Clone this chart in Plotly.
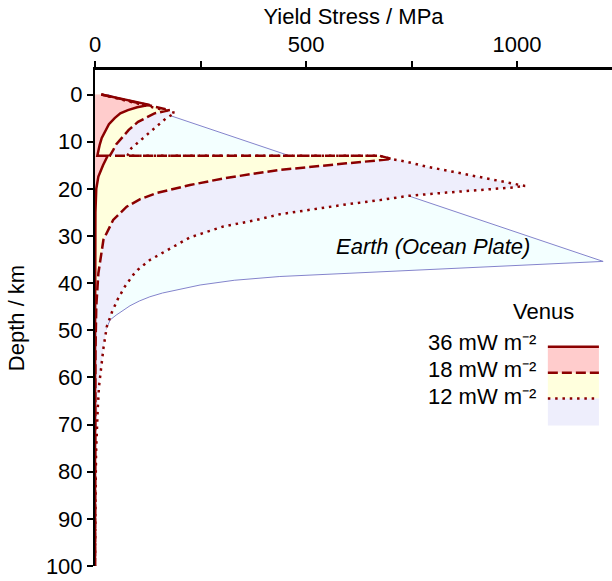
import plotly.graph_objects as go

# ---------------- data ----------------
# Venus, surface heat flow 36 mW m^-2
v36_stress = [15, 129.5, 100, 78, 60, 46.6, 33, 23, 16, 11, 7.5, 5.5, 30, 19, 8, 3, 1, 0.5, 0.2, 0]
v36_depth = [0, 2.2, 2.7, 3.3, 4.0, 5.0, 6.3, 7.9, 9.2, 10.7, 12.0, 13.0, 13.0, 15.0, 17.4, 20, 25, 35, 50, 100]

# Venus, 18 mW m^-2
v18_stress = [15, 177, 141, 102, 80, 62, 50, 43, 35, 675, 703, 596, 517, 438, 383, 304, 225,
              146, 107, 75, 43, 20, 8, 3, 1, 0.3, 0]
v18_depth = [0, 3.3, 4.0, 5.8, 7.5, 9.3, 10.6, 11.8, 13.0, 13.0, 13.7, 14.6, 15.3, 16.0, 16.7, 17.8, 19.2,
             20.9, 22.2, 23.8, 26.6, 30.8, 37.9, 45, 55, 70, 100]

# Venus, 12 mW m^-2
v12_stress = [15, 190, 169, 141, 110, 86, 78, 76, 675, 703, 735, 786, 849, 912, 976, 1019,
              991, 912, 833, 742, 675, 596, 517, 438, 383, 304, 225, 170, 130, 101, 91, 71, 54,
              40, 28, 20, 13.5, 9.5, 6.4, 4, 2.5, 1.2, 0.5, 0]
v12_depth = [0, 3.9, 5.0, 7.2, 9.6, 11.4, 12.8, 13.0, 13.0, 13.7, 14.2, 15.3, 16.4, 17.5, 18.6, 19.4,
             19.7, 20.2, 20.8, 21.5, 22.4, 23.3, 24.3, 25.4, 26.6, 28.0, 30.3, 33.0, 35.1, 37.2, 38.2, 40.7, 43.4,
             46.2, 49.2, 53.8, 58.4, 61.9, 66.8, 70.7, 76, 85, 93, 100]

# Earth (ocean plate)
earth_stress = [30, 1204, 438, 330, 249, 200, 160, 130, 105, 83, 65, 50, 36, 25, 12, 5, 0]
earth_depth = [0, 35.4, 38.6, 39.4, 40.4, 41.3, 42.1, 42.9, 43.8, 44.8, 45.8, 46.8, 47.8, 50, 55, 62, 75]

legend_labels = ["36 mW m⁻²", "18 mW m⁻²", "12 mW m⁻²"]

# ---------------- styles ----------------
RED = "#8b0000"
PINK = "#ffcccc"
YELLOW = "#ffffdd"
LAVENDER = "#eeeefc"
CYAN = "#f3ffff"
EARTH_LINE = "#8484cc"
FONT = "Liberation Sans, Arial, sans-serif"
DASH = "10px,4px"
DOT = "2.5px,4.8px"

fig = go.Figure()

# Earth fill + outline (underneath)
fig.add_trace(go.Scatter(x=earth_stress, y=earth_depth, mode="lines", fill="tozerox",
                         fillcolor=CYAN, line=dict(color=EARTH_LINE, width=1), hoverinfo="skip"))

# Venus fills
for xs, ys, col in [(v12_stress, v12_depth, LAVENDER), (v18_stress, v18_depth, YELLOW),
                    (v36_stress, v36_depth, PINK)]:
    fig.add_trace(go.Scatter(x=xs, y=ys, mode="lines", fill="tozerox", fillcolor=col,
                             line=dict(width=0, color=col), hoverinfo="skip"))

# Venus outlines
for xs, ys, dash in [(v12_stress, v12_depth, DOT), (v18_stress, v18_depth, DASH),
                     (v36_stress, v36_depth, "solid")]:
    fig.add_trace(go.Scatter(x=xs, y=ys, mode="lines",
                             line=dict(color=RED, width=2.5, dash=dash), hoverinfo="skip"))

# ---------------- legend (drawn as shapes / annotations) ----------------
lx0, lx1 = 1073, 1194
bands = [(53.5, 59.0, PINK, "solid"), (59.0, 64.5, YELLOW, DASH), (64.5, 70.2, LAVENDER, DOT)]
shapes = []
for (y0, y1, col, dash) in bands:
    shapes.append(dict(type="rect", xref="x", yref="y", x0=lx0, x1=lx1, y0=y0, y1=y1,
                       fillcolor=col, line=dict(width=0), layer="above"))
for (y0, y1, col, dash) in bands:
    shapes.append(dict(type="line", xref="x", yref="y", x0=lx0, x1=lx1, y0=y0, y1=y0,
                       line=dict(color=RED, width=2.5, dash=dash), layer="above"))

annotations = [
    dict(x=1062, y=46.1, xref="x", yref="y", text="Venus", showarrow=False,
         font=dict(family=FONT, size=22, color="black"), xanchor="center", yanchor="middle"),
    dict(x=801, y=32.3, xref="x", yref="y", text="<i>Earth (Ocean Plate)</i>", showarrow=False,
         font=dict(family=FONT, size=22, color="black"), xanchor="center", yanchor="middle"),
]
for lab, yy in zip(legend_labels, [52.6, 58.3, 64.0]):
    annotations.append(dict(x=1050, y=yy, xref="x", yref="y", text=lab, showarrow=False,
                            font=dict(family=FONT, size=22, color="black"),
                            xanchor="right", yanchor="middle"))

fig.update_layout(
    width=612, height=581,
    margin=dict(l=95, r=0, t=70, b=15),
    template="none",
    paper_bgcolor="white", plot_bgcolor="white",
    showlegend=False,
    font=dict(family=FONT, size=22, color="black"),
    shapes=shapes, annotations=annotations,
    xaxis=dict(side="top", range=[0, 1225], tickvals=[0, 250, 500, 750, 1000],
               ticktext=["0", "", "500", "", "1000"], ticks="outside", ticklen=6, tickwidth=1.5,
               tickcolor="black", showline=True, linewidth=2.5, linecolor="black",
               showgrid=False, zeroline=False, tickfont=dict(size=22),
               title=dict(text="Yield Stress / MPa", font=dict(size=22), standoff=2)),
    yaxis=dict(range=[100, -5.2], tickvals=list(range(0, 101, 10)), ticks="outside", ticklen=6,
               tickwidth=1.5, tickcolor="black", showline=True, linewidth=2, linecolor="black",
               showgrid=False, zeroline=False, tickfont=dict(size=22),
               title=dict(text="Depth / km", font=dict(size=22), standoff=15)),
)

fig.write_html("out.html")
